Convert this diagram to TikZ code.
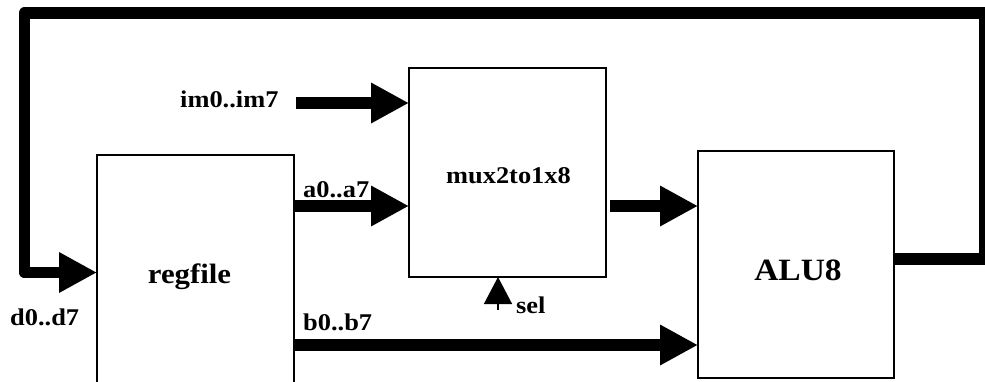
\documentclass[tikz,border=0pt]{standalone}
\usepackage{fontspec}
\setmainfont{Liberation Serif}
\usepackage{graphicx}
\usetikzlibrary{arrows.meta}

% slightly widened bold lettering
\newcommand\widetext[1]{\scalebox{1.1}[1]{#1}}

\tikzset{
  block/.style={draw, line width=1.6pt, inner sep=0pt, outer sep=0pt, anchor=north west},
  bus/.style={line width=11.5pt, -{Triangle[length=38pt,width=38pt]}},
  ctrl/.style={line width=1.5pt, -{Triangle[length=27pt,width=28pt]}},
  lab/.style={inner sep=0pt, font=\bfseries\fontsize{24}{28}\selectfont},
  biglab/.style={inner sep=0pt, anchor=base, font=\bfseries\fontsize{28}{32}\selectfont},
}

\begin{document}
\begin{tikzpicture}[x=1pt, y=-1pt]
  \fill[white] (0,0) rectangle (985,381);
  \useasboundingbox (0,0) rectangle (985,381);

  % blocks
  \node[block, minimum width=197pt, minimum height=245pt] (regfile) at (97,155) {};
  \node[block, minimum width=197pt, minimum height=209pt] (mux) at (409,68) {};
  \node[block, minimum width=196pt, minimum height=227pt] (alu) at (698,151) {};

  % block names
  \node[biglab] (regfiletext) at (189.5,283) {\widetext{regfile}};
  \node[lab, anchor=base] (muxtext) at (508.5,183) {\widetext{mux2to1x8}};
  \node[biglab, font=\bfseries\fontsize{31}{35}\selectfont] (alutext) at (798,280) {\scalebox{1.08}[1]{ALU8}};

  % routing points
  \coordinate (imsrc) at (296,103);
  \coordinate (ay) at (300,206);
  \coordinate (muxout) at (610,206);
  \coordinate (by) at (300,345);
  \coordinate (fb1) at (985,259);
  \coordinate (fb2) at (985,13);
  \coordinate (fb3) at (24.5,13);
  \coordinate (fb4) at (24.5,272.5);
  \coordinate (selfoot) at (498,310);

  % data buses
  \draw[bus] (imsrc) -- (mux.west |- imsrc);
  \draw[bus] (regfile.east |- ay) -- (mux.west |- ay);
  \draw[bus] (muxout) -- (alu.west |- muxout);
  \draw[bus] (regfile.east |- by) -- (alu.west |- by);

  % ALU result fed back into the register file
  \draw[bus, line join=round] (alu.east |- fb1) -- (fb1) -- (fb2) -- (fb3) -- (fb4) -- (regfile.west |- fb4);

  % select line
  \draw[ctrl] (selfoot) -- (mux.south -| selfoot);

  % signal names
  \node[lab, anchor=base west] (imlab) at (180,107) {\widetext{im0..im7}};
  \node[lab, anchor=base west] (alab) at (303,197) {\widetext{a0..a7}};
  \node[lab, anchor=base west] (blab) at (303,330) {\widetext{b0..b7}};
  \node[lab, anchor=base west] (dlab) at (10,325) {\widetext{d0..d7}};
  \node[lab, anchor=base west] (sellab) at (516,313) {\widetext{sel}};
\end{tikzpicture}
\end{document}
